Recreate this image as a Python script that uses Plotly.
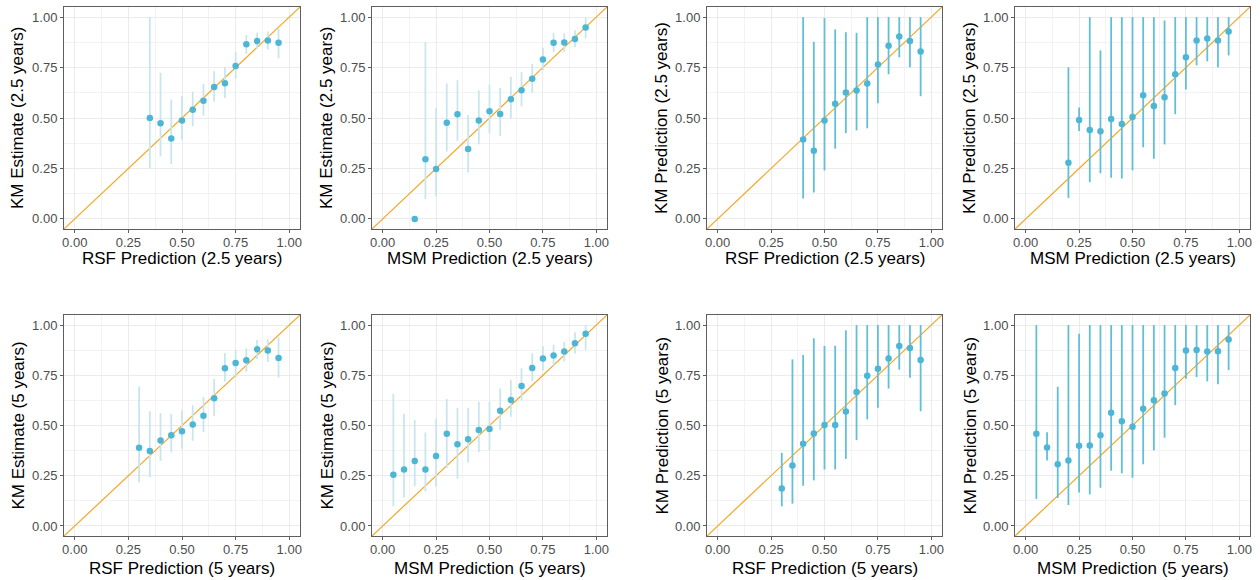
import plotly.graph_objects as go

# bin midpoints and KM values
rsf_x = [0.35, 0.40, 0.45, 0.50, 0.55, 0.60, 0.65, 0.70, 0.75, 0.80, 0.85, 0.90, 0.95]

# panel 1: RSF 2.5y vs KM estimate
p1_x = rsf_x
p1_y = [0.500, 0.474, 0.399, 0.488, 0.541, 0.586, 0.654, 0.672, 0.758, 0.866, 0.881, 0.884, 0.873]
p1_lo = [0.252, 0.310, 0.272, 0.392, 0.459, 0.512, 0.581, 0.599, 0.694, 0.818, 0.843, 0.839, 0.795]
p1_hi = [1.000, 0.724, 0.591, 0.608, 0.631, 0.669, 0.732, 0.752, 0.828, 0.912, 0.922, 0.929, 0.942]

# panel 2: MSM 2.5y vs KM estimate
p2_x = [0.15, 0.20, 0.25, 0.30, 0.35, 0.40, 0.45, 0.50, 0.55, 0.60, 0.65, 0.70, 0.75, 0.80, 0.85, 0.90, 0.95]
p2_y = [0.000, 0.296, 0.247, 0.477, 0.518, 0.346, 0.487, 0.533, 0.520, 0.593, 0.637, 0.694, 0.790, 0.873, 0.874, 0.892, 0.949]
p2_lo = [0.000, 0.099, 0.111, 0.334, 0.387, 0.230, 0.369, 0.425, 0.412, 0.498, 0.558, 0.624, 0.737, 0.826, 0.826, 0.851, 0.894]
p2_hi = [0.000, 0.876, 0.548, 0.671, 0.687, 0.515, 0.637, 0.666, 0.649, 0.704, 0.727, 0.768, 0.848, 0.921, 0.919, 0.935, 0.997]

# panel 3: RSF 2.5y vs KM prediction
p3_x = [0.40, 0.45, 0.50, 0.55, 0.60, 0.65, 0.70, 0.75, 0.80, 0.85, 0.90, 0.95]
p3_y = [0.394, 0.338, 0.487, 0.571, 0.626, 0.636, 0.671, 0.765, 0.858, 0.904, 0.881, 0.829]
p3_lo = [0.101, 0.131, 0.240, 0.348, 0.425, 0.439, 0.449, 0.573, 0.717, 0.801, 0.752, 0.608]
p3_hi = [1.000, 0.878, 0.995, 0.939, 0.925, 0.922, 1.000, 1.000, 1.000, 1.000, 1.000, 1.000]

# panel 4: MSM 2.5y vs KM prediction
p4_x = [0.20, 0.25, 0.30, 0.35, 0.40, 0.45, 0.50, 0.55, 0.60, 0.65, 0.70, 0.75, 0.80, 0.85, 0.90, 0.95]
p4_y = [0.278, 0.490, 0.441, 0.434, 0.495, 0.470, 0.505, 0.613, 0.559, 0.603, 0.717, 0.801, 0.884, 0.894, 0.884, 0.929]
p4_lo = [0.103, 0.436, 0.182, 0.226, 0.204, 0.200, 0.241, 0.355, 0.298, 0.369, 0.519, 0.641, 0.761, 0.781, 0.751, 0.810]
p4_hi = [0.751, 0.552, 1.000, 0.835, 1.000, 1.000, 1.000, 1.000, 1.000, 0.983, 1.000, 1.000, 1.000, 1.000, 1.000, 1.000]

# panel 5: RSF 5y vs KM estimate
p5_x = [0.30] + rsf_x
p5_y = [0.389, 0.373, 0.425, 0.452, 0.472, 0.505, 0.548, 0.636, 0.785, 0.811, 0.825, 0.879, 0.873, 0.836]
p5_lo = [0.217, 0.243, 0.323, 0.366, 0.384, 0.424, 0.467, 0.548, 0.719, 0.738, 0.768, 0.831, 0.816, 0.738]
p5_hi = [0.694, 0.571, 0.561, 0.558, 0.575, 0.601, 0.642, 0.732, 0.861, 0.876, 0.884, 0.925, 0.929, 0.939]

# panel 6: MSM 5y vs KM estimate
p6_x = [0.05, 0.10, 0.15, 0.20, 0.25, 0.30, 0.35, 0.40, 0.45, 0.50, 0.55, 0.60, 0.65, 0.70, 0.75, 0.80, 0.85, 0.90, 0.95]
p6_y = [0.255, 0.281, 0.323, 0.281, 0.348, 0.459, 0.407, 0.432, 0.477, 0.482, 0.573, 0.627, 0.697, 0.786, 0.834, 0.848, 0.868, 0.909, 0.957]
p6_lo = [0.098, 0.142, 0.197, 0.172, 0.195, 0.288, 0.235, 0.315, 0.368, 0.376, 0.478, 0.543, 0.624, 0.722, 0.773, 0.798, 0.818, 0.858, 0.876]
p6_hi = [0.657, 0.558, 0.528, 0.465, 0.533, 0.632, 0.588, 0.588, 0.618, 0.619, 0.685, 0.727, 0.785, 0.859, 0.894, 0.901, 0.917, 0.964, 1.000]

# panel 7: RSF 5y vs KM prediction
p7_x = [0.30] + rsf_x
p7_y = [0.187, 0.301, 0.409, 0.460, 0.502, 0.502, 0.570, 0.667, 0.748, 0.783, 0.834, 0.896, 0.886, 0.826]
p7_lo = [0.098, 0.111, 0.200, 0.227, 0.281, 0.281, 0.334, 0.427, 0.531, 0.588, 0.684, 0.778, 0.738, 0.571]
p7_hi = [0.364, 0.829, 0.851, 0.934, 0.896, 0.897, 0.974, 1.000, 1.000, 1.000, 1.000, 1.000, 1.000, 1.000]

# panel 8: MSM 5y vs KM prediction
p8_x = p6_x
p8_y = [0.459, 0.391, 0.307, 0.326, 0.399, 0.401, 0.452, 0.564, 0.521, 0.494, 0.583, 0.626, 0.659, 0.786, 0.873, 0.876, 0.868, 0.870, 0.928]
p8_lo = [0.135, 0.326, 0.139, 0.104, 0.167, 0.157, 0.190, 0.275, 0.262, 0.240, 0.307, 0.376, 0.439, 0.601, 0.733, 0.741, 0.720, 0.705, 0.776]
p8_hi = [1.000, 0.467, 0.693, 1.000, 0.957, 1.000, 1.000, 1.000, 1.000, 1.000, 1.000, 1.000, 1.000, 1.000, 1.000, 1.000, 1.000, 1.000, 1.000]

x_titles = ["RSF Prediction (2.5 years)", "MSM Prediction (2.5 years)", "RSF Prediction (2.5 years)", "MSM Prediction (2.5 years)",
            "RSF Prediction (5 years)", "MSM Prediction (5 years)", "RSF Prediction (5 years)", "MSM Prediction (5 years)"]
y_titles = ["KM Estimate (2.5 years)", "KM Estimate (2.5 years)", "KM Prediction (2.5 years)", "KM Prediction (2.5 years)",
            "KM Estimate (5 years)", "KM Estimate (5 years)", "KM Prediction (5 years)", "KM Prediction (5 years)"]
tick_vals = [0, 0.25, 0.5, 0.75, 1.0]

panels = [(p1_x, p1_y, p1_lo, p1_hi), (p2_x, p2_y, p2_lo, p2_hi), (p3_x, p3_y, p3_lo, p3_hi), (p4_x, p4_y, p4_lo, p4_hi),
          (p5_x, p5_y, p5_lo, p5_hi), (p6_x, p6_y, p6_lo, p6_hi), (p7_x, p7_y, p7_lo, p7_hi), (p8_x, p8_y, p8_lo, p8_hi)]

W, H = 1260, 580
# frame boxes in pixels (left, right, top, bottom)
col_px = [(64, 300), (372, 607), (707, 942), (1015, 1250)]
row_px = [(7, 229), (315, 536)]
ytitle_px = [18, 327, 662, 970]
xtitle_px = [258, 568]

point_col = "#4DB6D4"
light_err = "#C9E6EF"
dark_err = "#62BFDA"
diag_col = "#F5A623"
rng = [-0.05, 1.05]

fig = go.Figure()
annotations = []
for i, (xs, ys, lo, hi) in enumerate(panels):
    r, c = divmod(i, 4)
    n = i + 1
    xa = "x" if n == 1 else "x%d" % n
    ya = "y" if n == 1 else "y%d" % n
    err_col = light_err if c < 2 else dark_err
    fig.add_trace(go.Scatter(x=rng, y=rng, mode="lines", line=dict(color=diag_col, width=1.2),
                             xaxis=xa, yaxis=ya, showlegend=False, hoverinfo="skip"))
    fig.add_trace(go.Scatter(
        x=xs, y=ys, mode="markers", xaxis=xa, yaxis=ya, showlegend=False,
        marker=dict(color=point_col, size=6.5),
        error_y=dict(type="data", symmetric=False,
                     array=[h - v for h, v in zip(hi, ys)],
                     arrayminus=[v - l for v, l in zip(ys, lo)],
                     color=err_col, thickness=1.8, width=0)))
    x0, x1 = col_px[c]
    t, b = row_px[r]
    axis_common = dict(range=rng, tickvals=tick_vals, tickformat=".2f", showgrid=True,
                       gridcolor="#EBEBEB", gridwidth=1.1, zeroline=False,
                       showline=True, mirror=True, linecolor="#5E5E5E", linewidth=1,
                       ticks="outside", ticklen=3, tickcolor="#5E5E5E",
                       tickfont=dict(family="Liberation Sans, Arial", size=13, color="#4D4D4D"),
                       minor=dict(tickvals=[0.125, 0.375, 0.625, 0.875], showgrid=True,
                                  gridcolor="#F3F3F3", gridwidth=0.6, ticks=""),
                       automargin=False, fixedrange=True)
    fig.layout["xaxis" if n == 1 else "xaxis%d" % n] = dict(axis_common, domain=[x0 / W, x1 / W], anchor=ya,
                                                            ticklabelstandoff=-2)
    fig.layout["yaxis" if n == 1 else "yaxis%d" % n] = dict(axis_common, domain=[1 - b / H, 1 - t / H], anchor=xa)
    annotations.append(dict(text=x_titles[i], xref="paper", yref="paper", x=(x0 + x1) / 2 / W,
                            y=1 - xtitle_px[r] / H, xanchor="center", yanchor="middle", showarrow=False,
                            font=dict(family="Liberation Sans, Arial", size=17, color="black")))
    annotations.append(dict(text=y_titles[i], xref="paper", yref="paper", x=ytitle_px[c] / W,
                            y=1 - (t + b) / 2 / H, xanchor="center", yanchor="middle", showarrow=False,
                            textangle=-90,
                            font=dict(family="Liberation Sans, Arial", size=17, color="black")))

fig.update_layout(width=W, height=H, margin=dict(l=0, r=0, t=0, b=0),
                  plot_bgcolor="white", paper_bgcolor="white", annotations=annotations,
                  template="none")
# drop the page's default body margin so the figure sits at the top-left corner
fig.write_html("out.html", config={"displayModeBar": False},
               post_script="document.body.style.margin='0';")
